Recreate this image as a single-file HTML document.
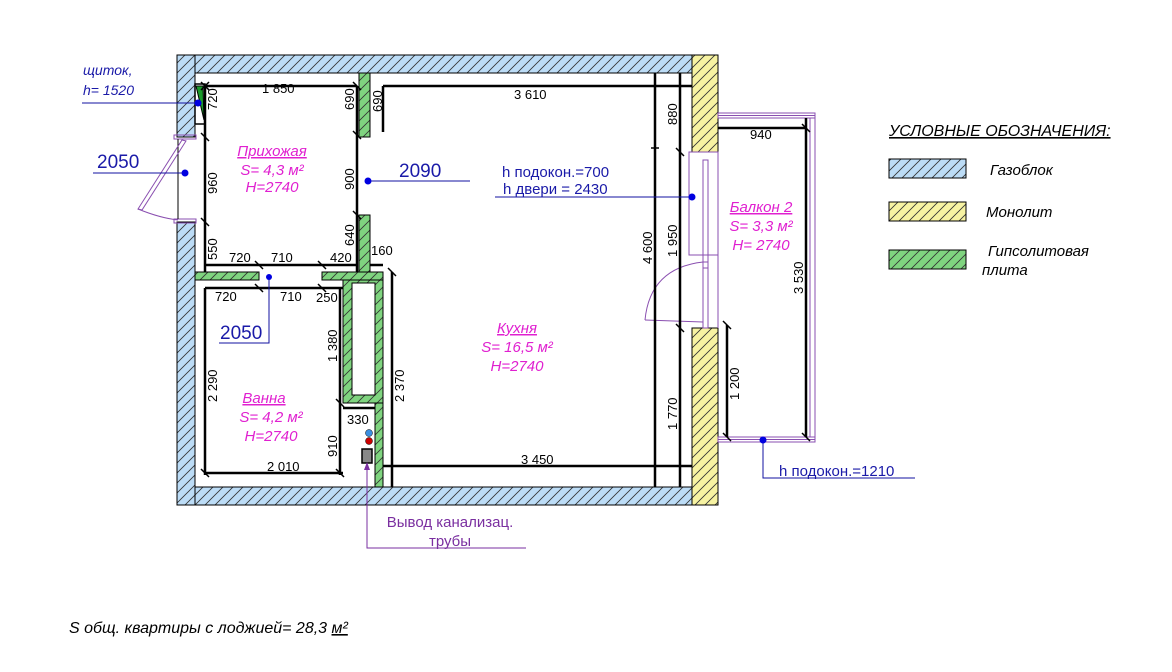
<!DOCTYPE html>
<html><head><meta charset="utf-8"><style>
html,body{margin:0;padding:0;background:#fff;}
svg{display:block;font-family:"Liberation Sans",sans-serif;}
</style></head><body>
<svg width="1172" height="672" viewBox="0 0 1172 672" xmlns="http://www.w3.org/2000/svg">
<defs>
<pattern id="hb" patternUnits="userSpaceOnUse" width="10" height="10"><rect width="10" height="10" fill="#bcdcf6"/><path d="M-2,12 L12,-2 M-2,2 L2,-2 M8,12 L12,8" stroke="#333" stroke-width="0.8"/></pattern>
<pattern id="hy" patternUnits="userSpaceOnUse" width="10" height="10"><rect width="10" height="10" fill="#f7f3a2"/><path d="M-2,12 L12,-2 M-2,2 L2,-2 M8,12 L12,8" stroke="#333" stroke-width="0.8"/></pattern>
<pattern id="hg" patternUnits="userSpaceOnUse" width="10" height="10"><rect width="10" height="10" fill="#7fd47f"/><path d="M-2,12 L12,-2 M-2,2 L2,-2 M8,12 L12,8" stroke="#333" stroke-width="0.8"/></pattern>
</defs>
<g stroke="#000" stroke-width="1">
<rect x="177" y="55" width="515" height="18" fill="url(#hb)"/>
<rect x="177" y="487" width="515" height="18" fill="url(#hb)"/>
<rect x="177" y="55" width="18" height="82" fill="url(#hb)"/>
<rect x="177" y="222" width="18" height="283" fill="url(#hb)"/>
<rect x="692" y="55" width="26" height="97" fill="url(#hy)"/>
<rect x="692" y="328" width="26" height="177" fill="url(#hy)"/>
<rect x="359" y="73" width="11" height="64" fill="url(#hg)"/>
<rect x="359" y="215" width="11" height="57" fill="url(#hg)"/>
<rect x="195" y="272" width="64" height="8" fill="url(#hg)"/>
<rect x="322" y="272" width="61" height="8" fill="url(#hg)"/>
<rect x="343" y="280" width="40" height="123" fill="url(#hg)"/>
<rect x="352" y="283" width="23" height="112" fill="#fff"/>
<rect x="375" y="403" width="8" height="84" fill="url(#hg)"/>
</g>
<rect x="195" y="84" width="10" height="40" fill="#fff" stroke="#000" stroke-width="1.5"/>
<polygon points="196,86 203,86 204,120" fill="#1a9a2a" stroke="#000"/>
<g stroke="#8a4fb0" fill="none" stroke-width="1">
<rect x="174" y="135" width="22" height="4"/><rect x="174" y="219" width="22" height="4"/>
<line x1="178" y1="139" x2="178" y2="219" stroke="#000"/>
<polygon points="182,140 186,141 142,210 138,209"/>
<path d="M138,209 Q160,218 178,220"/>
</g>
<g stroke="#8a4fb0" fill="none" stroke-width="1">
<rect x="718" y="113" width="97" height="5"/><rect x="718" y="437" width="97" height="5"/>
<rect x="810" y="118" width="5" height="319"/>
<line x1="718" y1="115.5" x2="815" y2="115.5"/><line x1="718" y1="439.5" x2="815" y2="439.5"/>
<rect x="689" y="152" width="29" height="103"/>
<rect x="703" y="160" width="5" height="108"/>
<rect x="703" y="262" width="5" height="66"/>
<line x1="718" y1="152" x2="718" y2="328"/>
<path d="M645,320 Q650,268 703,262"/>
<line x1="645" y1="320" x2="703" y2="322"/>
</g>
<g stroke="#000" stroke-width="2.5" fill="none">
<line x1="205" y1="86" x2="357" y2="86"/>
<line x1="383" y1="86" x2="692" y2="86"/>
<line x1="205" y1="86" x2="205" y2="272"/>
<line x1="357" y1="86" x2="357" y2="272"/>
<line x1="383" y1="86" x2="383" y2="132"/>
<line x1="205" y1="265" x2="357" y2="265"/>
<line x1="205" y1="288" x2="343" y2="288"/>
<line x1="205" y1="288" x2="205" y2="475"/>
<line x1="340" y1="288" x2="340" y2="475"/>
<line x1="343" y1="408" x2="375" y2="408"/>
<line x1="205" y1="473" x2="343" y2="473"/>
<line x1="392" y1="272" x2="392" y2="487"/>
<line x1="383" y1="466" x2="692" y2="466"/>
<line x1="655" y1="73" x2="655" y2="487"/>
<line x1="680" y1="73" x2="680" y2="487"/>
<line x1="718" y1="128" x2="806" y2="128"/>
<line x1="806" y1="118" x2="806" y2="437"/>
<line x1="727" y1="325" x2="727" y2="437"/>
<line x1="370" y1="265" x2="383" y2="265"/>
</g>
<g stroke="#000" stroke-width="1.5">
<path d="M201,82l8,8M201,90l8,-8 M353,82l8,8 M201,133l8,8 M201,218l8,8 M353,131l8,8 M353,211l8,8 M255,261l8,8 M318,261l8,8 M255,284l8,8 M318,284l8,8 M336,399l8,8 M651,148l8,0 M676,148l8,8 M676,324l8,8 M802,124l8,8 M723,433l8,8 M802,433l8,8 M723,321l8,8 M388,268l8,8 M201,469l8,8 M336,469l8,8"/>
</g>
<circle cx="369" cy="433" r="3.5" fill="#3b8fe0" stroke="#000" stroke-width="0.5"/>
<circle cx="369" cy="441" r="3.5" fill="#c00" stroke="#000" stroke-width="0.5"/>
<rect x="362" y="449" width="10" height="14" fill="#888" stroke="#000" stroke-width="1.5"/>
<g font-size="13" fill="#000">
<text x="262" y="93">1 850</text>
<text x="514" y="99">3 610</text>
<text x="229" y="262">720</text>
<text x="271" y="262">710</text>
<text x="330" y="262">420</text>
<text x="371" y="255">160</text>
<text x="215" y="301">720</text>
<text x="280" y="301">710</text>
<text x="316" y="302">250</text>
<text x="347" y="424">330</text>
<text x="267" y="471">2 010</text>
<text x="521" y="464">3 450</text>
<text x="750" y="139">940</text>
<g transform="rotate(-90)">
<text x="-110" y="217">720</text>
<text x="-194" y="217">960</text>
<text x="-260" y="217">550</text>
<text x="-110" y="354">690</text>
<text x="-190" y="354">900</text>
<text x="-246" y="354">640</text>
<text x="-112" y="382">690</text>
<text x="-402" y="217">2 290</text>
<text x="-362" y="337">1 380</text>
<text x="-457" y="337">910</text>
<text x="-402" y="404">2 370</text>
<text x="-264" y="652">4 600</text>
<text x="-125" y="677">880</text>
<text x="-257" y="677">1 950</text>
<text x="-430" y="677">1 770</text>
<text x="-294" y="803">3 530</text>
<text x="-400" y="739">1 200</text>
</g>
</g>
<g fill="#e020d0" font-size="15" font-style="italic" text-anchor="middle">
<text x="272" y="156" text-decoration="underline">Прихожая</text>
<text x="272" y="175">S= 4,3 м²</text>
<text x="272" y="192">H=2740</text>
<text x="517" y="333" text-decoration="underline">Кухня</text>
<text x="517" y="352">S= 16,5 м²</text>
<text x="517" y="371">H=2740</text>
<text x="264" y="403" text-decoration="underline">Ванна</text>
<text x="271" y="422">S= 4,2 м²</text>
<text x="271" y="441">H=2740</text>
<text x="761" y="212" text-decoration="underline">Балкон 2</text>
<text x="761" y="231">S= 3,3 м²</text>
<text x="761" y="250">H= 2740</text>
</g>
<g stroke="#1010a0" stroke-width="1" fill="none">
<line x1="82" y1="103" x2="198" y2="103"/>
<line x1="93" y1="173" x2="185" y2="173"/>
<line x1="368" y1="181" x2="470" y2="181"/>
<polyline points="219,343 269,343 269,277"/>
<line x1="495" y1="197" x2="692" y2="197"/>
<polyline points="763,440 763,478 915,478"/>
</g>
<g fill="#0000e0"><circle cx="198" cy="103" r="3.5"/><circle cx="185" cy="173" r="3.5"/><circle cx="368" cy="181" r="3.5"/><circle cx="269" cy="277" r="3"/><circle cx="692" cy="197" r="3.5"/><circle cx="763" cy="440" r="3.5"/></g>
<g fill="#1a1aa8">
<text x="83" y="75" font-size="14" font-style="italic">щиток,</text>
<text x="83" y="95" font-size="14" font-style="italic">h= 1520</text>
<text x="97" y="168" font-size="19">2050</text>
<text x="399" y="177" font-size="19">2090</text>
<text x="220" y="339" font-size="19">2050</text>
<text x="502" y="177" font-size="15">h подокон.=700</text>
<text x="503" y="194" font-size="15">h двери = 2430</text>
<text x="779" y="476" font-size="15">h подокон.=1210</text>
</g>
<polyline points="367,463 367,548 526,548" stroke="#7a2fa0" fill="none"/>
<polygon points="367,462 364,470 370,470" fill="#7a2fa0"/>
<g fill="#7a2fa0" font-size="15" text-anchor="middle"><text x="450" y="527">Вывод канализац.</text><text x="450" y="546">трубы</text></g>
<text x="889" y="136" font-size="16" font-style="italic" text-decoration="underline">УСЛОВНЫЕ ОБОЗНАЧЕНИЯ:</text>
<rect x="889" y="159" width="77" height="19" fill="url(#hb)" stroke="#000"/>
<rect x="889" y="202" width="77" height="19" fill="url(#hy)" stroke="#000"/>
<rect x="889" y="250" width="77" height="19" fill="url(#hg)" stroke="#000"/>
<g font-size="15" font-style="italic">
<text x="990" y="175">Газоблок</text>
<text x="986" y="217">Монолит</text>
<text x="988" y="256">Гипсолитовая</text>
<text x="982" y="275">плита</text>
</g>
<text x="69" y="633" font-size="16" font-style="italic">S общ. квартиры с лоджией= 28,3 <tspan text-decoration="underline">м²</tspan></text>
</svg>
</body></html>
